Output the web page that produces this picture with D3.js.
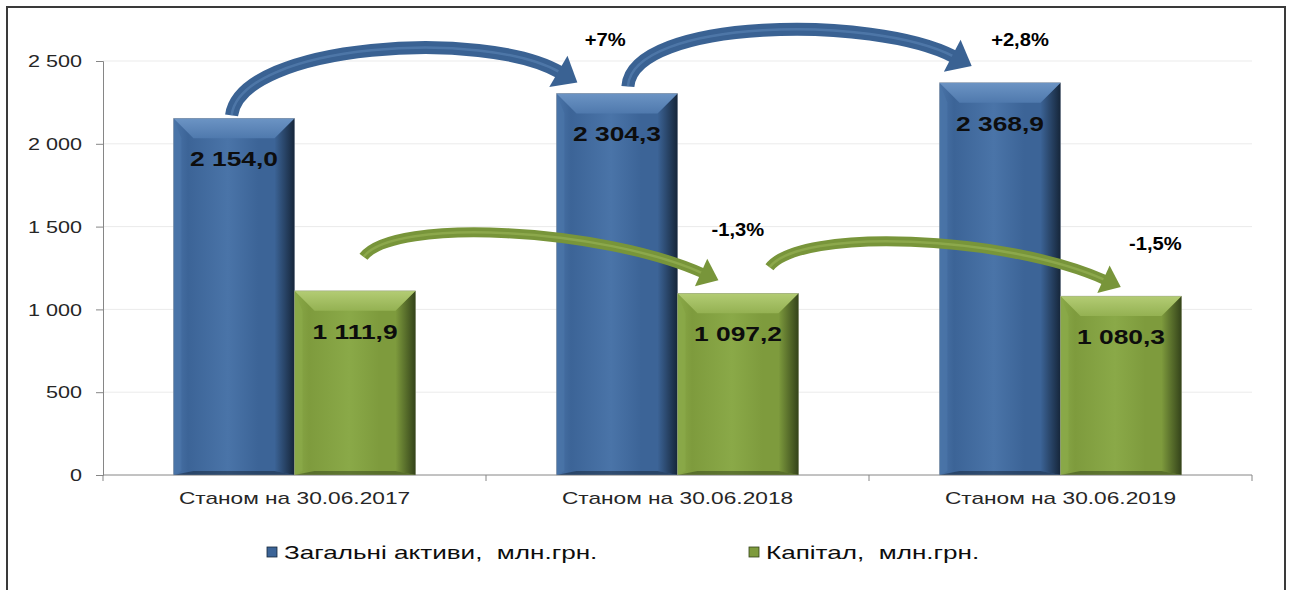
<!DOCTYPE html>
<html>
<head>
<meta charset="utf-8">
<script src="https://cdn.jsdelivr.net/npm/d3@7"></script>
<style>
  body { margin: 0; background: #fff; }
  svg text { font-family: "Liberation Sans", Arial, sans-serif; white-space: pre; }
</style>
</head>
<body>
<script>
// chart values
const categories = ["Станом на 30.06.2017", "Станом на 30.06.2018", "Станом на 30.06.2019"];
const seriesNames = ["Загальні активи,\u00a0 млн.грн.", "Капітал,\u00a0 млн.грн."];
const assets = [2154.0, 2304.3, 2368.9];
const capital = [1111.9, 1097.2, 1080.3];
const assetChange = ["+7%", "+2,8%"];
const capitalChange = ["-1,3%", "-1,5%"];
const yTicks = [0, 500, 1000, 1500, 2000, 2500];

const w = 1292, h = 590;
const margin = { top: 61, right: 40, bottom: 115, left: 103 };
const plotW = w - margin.left - margin.right;
const plotH = h - margin.top - margin.bottom;

const svg = d3.select("body").append("svg")
  .attr("width", w).attr("height", h);

// outer frame
svg.append("rect")
  .attr("x", 7).attr("y", 7).attr("width", 1278).attr("height", 620)
  .attr("fill", "none").attr("stroke", "#3a3a3a").attr("stroke-width", 2);

const locale = d3.formatLocale({ decimal: ",", thousands: "\u00a0", grouping: [3] });
const fmtTick = locale.format(",");
const fmtVal = locale.format(",.1f");

const x0 = d3.scaleBand().domain(categories)
  .range([margin.left, margin.left + plotW])
  .paddingInner(0.368).paddingOuter(0.184);
const x1 = d3.scaleBand().domain([0, 1]).range([0, x0.bandwidth()]);
const y = d3.scaleLinear().domain([0, 2500]).range([margin.top + plotH, margin.top]);

// palette per series
const pal = [
  { base: "#3c6497", light: "#4a74a8", top1: "#6c94c4", top2: "#4f79ad", dark: "#16263a", arrow: "#3a6293", hi: "#6690c2" },
  { base: "#7e9b3d", light: "#8aa948", top1: "#b3cc74", top2: "#94b152", dark: "#34431a", arrow: "#78953a", hi: "#a3bf62" }
];

const defs = svg.append("defs");
pal.forEach((p, i) => {
  const g1 = defs.append("linearGradient").attr("id", "body" + i).attr("x1", 0).attr("x2", 1).attr("y1", 0).attr("y2", 0);
  g1.append("stop").attr("offset", "0%").attr("stop-color", p.light);
  g1.append("stop").attr("offset", "12%").attr("stop-color", p.base);
  g1.append("stop").attr("offset", "45%").attr("stop-color", p.light);
  g1.append("stop").attr("offset", "70%").attr("stop-color", p.base);
  g1.append("stop").attr("offset", "100%").attr("stop-color", p.base);
  const g2 = defs.append("linearGradient").attr("id", "top" + i).attr("x1", 0).attr("x2", 0).attr("y1", 0).attr("y2", 1);
  g2.append("stop").attr("offset", "0%").attr("stop-color", p.top1);
  g2.append("stop").attr("offset", "100%").attr("stop-color", p.top2);
  const g3 = defs.append("linearGradient").attr("id", "side" + i).attr("x1", 0).attr("x2", 1).attr("y1", 0).attr("y2", 0);
  g3.append("stop").attr("offset", "0%").attr("stop-color", p.base);
  g3.append("stop").attr("offset", "100%").attr("stop-color", p.dark);
});

// gridlines
svg.append("g").selectAll("line").data(yTicks.filter(d => d > 0)).join("line")
  .attr("x1", margin.left).attr("x2", margin.left + plotW)
  .attr("y1", d => y(d)).attr("y2", d => y(d))
  .attr("stroke", "#ebebeb").attr("stroke-width", 1);

// y axis
const yAxis = svg.append("g")
  .attr("transform", `translate(${margin.left},0)`)
  .call(d3.axisLeft(y).tickValues(yTicks).tickSize(7).tickFormat(fmtTick));
yAxis.select(".domain").attr("stroke", "#868686");
yAxis.selectAll(".tick line").attr("stroke", "#868686");
yAxis.selectAll(".tick text")
  .attr("x", -21 / 1.35).attr("dy", "0.36em")
  .attr("transform", "scale(1.35,1)")
  .attr("font-size", 16).attr("fill", "#262626");

// x axis
const xAxisY = y(0);
svg.append("line")
  .attr("x1", margin.left).attr("x2", margin.left + plotW)
  .attr("y1", xAxisY).attr("y2", xAxisY)
  .attr("stroke", "#868686");
const edges = categories.map(c => x0(c) - x0.step() * x0.paddingInner() / 2);
edges.push(margin.left + plotW);
edges[0] = margin.left;
svg.append("g").selectAll("line").data(edges).join("line")
  .attr("x1", d => d).attr("x2", d => d)
  .attr("y1", xAxisY).attr("y2", xAxisY + 6)
  .attr("stroke", "#868686");
svg.append("g").selectAll("text").data(categories).join("text")
  .attr("transform", d => `translate(${x0(d) + x0.bandwidth() / 2},${xAxisY + 29}) scale(1.42,1)`)
  .attr("text-anchor", "middle").attr("font-size", 16).attr("fill", "#262626")
  .text(d => d);

// bars
const series = [assets, capital];
const bars = [];
series.forEach((vals, s) => {
  vals.forEach((v, i) => {
    bars.push({ s, i, v, x: x0(categories[i]) + x1(s), y: y(v), w: x1.bandwidth(), h: y(0) - y(v) });
  });
});

const d = 20;
const barG = svg.append("g").selectAll("g").data(bars).join("g");
barG.append("rect")
  .attr("x", b => b.x).attr("y", b => b.y).attr("width", b => b.w).attr("height", b => b.h)
  .attr("fill", b => `url(#body${b.s})`);
barG.append("polygon")
  .attr("points", b => [[b.x + b.w, b.y], [b.x + b.w, b.y + b.h], [b.x + b.w - d, b.y + b.h - 4], [b.x + b.w - d, b.y + d]].join(" "))
  .attr("fill", b => `url(#side${b.s})`);
barG.append("polygon")
  .attr("points", b => [[b.x, b.y], [b.x + d * 0.4, b.y + d], [b.x + d * 0.4, b.y + b.h - 4], [b.x, b.y + b.h]].join(" "))
  .attr("fill", b => pal[b.s].light).attr("opacity", 0.8);
barG.append("polygon")
  .attr("points", b => [[b.x, b.y], [b.x + b.w, b.y], [b.x + b.w - d, b.y + d], [b.x + d, b.y + d]].join(" "))
  .attr("fill", b => `url(#top${b.s})`);
barG.append("polygon")
  .attr("points", b => [[b.x, b.y + b.h], [b.x + b.w, b.y + b.h], [b.x + b.w - d, b.y + b.h - 4], [b.x + d, b.y + b.h - 4]].join(" "))
  .attr("fill", b => pal[b.s].dark).attr("opacity", 0.5);
barG.append("rect")
  .attr("x", b => b.x).attr("y", b => b.y).attr("width", b => b.w).attr("height", b => b.h)
  .attr("fill", "none").attr("stroke", "#9a9a9a").attr("stroke-width", 0.6).attr("stroke-opacity", 0.6);

// growth arrows (geometry relative to the bars they join)
const arrowGeom = [
  [ { sx: 0.48, sy: -3, ex: 0.03, ey: -21, c1: [10, -72], c2: [-75, -44], lx: 45, ly: -26 },
    { sx: 0.59, sy: -7, ex: 0.12, ey: -26, c1: [5, -68], c2: [-80, -42], lx: 66, ly: -11 } ],
  [ { sx: 0.57, sy: -34, ex: 0.21, ey: -20, c1: [30, -40], c2: [-100, -45], lx: 35, ly: -37 },
    { sx: 0.76, sy: -26, ex: 0.37, ey: -16, c1: [30, -40], c2: [-100, -45], lx: 50, ly: -30 } ]
];
const changes = [assetChange, capitalChange];
const arrowSize = [{ shaft: 13, len: 20, half: 18 }, { shaft: 10, len: 17, half: 15 }];

const arrowG = svg.append("g");
series.forEach((vals, s) => {
  changes[s].forEach((label, k) => {
    const g = arrowGeom[s][k];
    const bw = x1.bandwidth();
    const p0 = [x0(categories[k]) + x1(s) + g.sx * bw, y(vals[k]) + g.sy];
    const p3 = [x0(categories[k + 1]) + x1(s) + g.ex * bw, y(vals[k + 1]) + g.ey];
    const p1 = [p0[0] + g.c1[0], p0[1] + g.c1[1]];
    const p2 = [p3[0] + g.c2[0], p3[1] + g.c2[1]];
    const path = d3.path();
    path.moveTo(p0[0], p0[1]);
    path.bezierCurveTo(p1[0], p1[1], p2[0], p2[1], p3[0], p3[1]);
    const sz = arrowSize[s];
    arrowG.append("path").attr("d", path.toString())
      .attr("fill", "none").attr("stroke", pal[s].arrow).attr("stroke-width", sz.shaft);
    arrowG.append("path").attr("d", path.toString())
      .attr("fill", "none").attr("stroke", pal[s].hi).attr("stroke-width", 2.5).attr("stroke-opacity", 0.45);
    // head
    let dx = p3[0] - p2[0], dy = p3[1] - p2[1];
    const len = Math.hypot(dx, dy); dx /= len; dy /= len;
    const tip = [p3[0] + dx * sz.len, p3[1] + dy * sz.len];
    const a = [p3[0] - dy * sz.half - dx * 2, p3[1] + dx * sz.half - dy * 2];
    const b = [p3[0] + dy * sz.half - dx * 2, p3[1] - dx * sz.half - dy * 2];
    arrowG.append("polygon").attr("points", [a, tip, b].join(" ")).attr("fill", pal[s].arrow);
    arrowG.append("text")
      .attr("transform", `translate(${p3[0] + g.lx},${p3[1] + g.ly}) scale(1.12,1)`)
      .attr("text-anchor", "middle").attr("font-size", 18).attr("font-weight", "bold").attr("fill", "#000")
      .text(label);
  });
});

// value labels
svg.append("g").selectAll("text").data(bars).join("text")
  .attr("transform", b => `translate(${b.x + b.w / 2},${b.y + 48}) scale(1.32,1)`)
  .attr("text-anchor", "middle").attr("font-size", 20).attr("font-weight", "bold").attr("fill", "#0d0d0d")
  .text(b => fmtVal(b.v));

// legend
const legX = [267, 749];
const leg = svg.append("g").selectAll("g").data(seriesNames).join("g")
  .attr("transform", (dd, i) => `translate(${legX[i]},547)`);
leg.append("rect").attr("width", 10).attr("height", 10)
  .attr("fill", (dd, i) => pal[i].base).attr("stroke", (dd, i) => pal[i].dark).attr("stroke-width", 0.8);
leg.append("text")
  .attr("transform", "translate(17,12) scale(1.45,1)")
  .attr("font-size", 18).attr("fill", "#0d0d0d")
  .text(dd => dd);
</script>
</body>
</html>
